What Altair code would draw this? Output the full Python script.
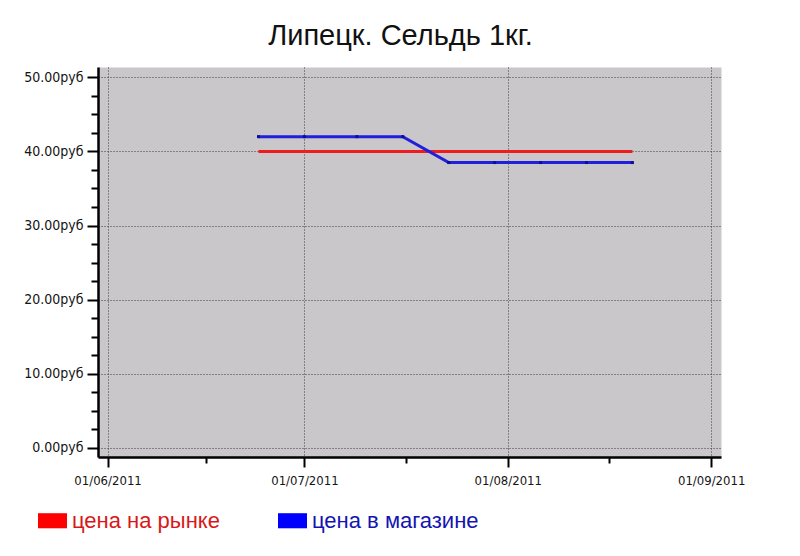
import altair as alt
import pandas as pd

# ---- data ----
dates = ["2011-06-24", "2011-07-01", "2011-07-09", "2011-07-16", "2011-07-23",
         "2011-07-30", "2011-08-06", "2011-08-13", "2011-08-20"]
market_price = [40, 40, 40, 40, 40, 40, 40, 40, 40]
store_price = [42, 42, 42, 42, 38.5, 38.5, 38.5, 38.5, 38.5]
series_names = ["цена на рынке", "цена в магазине"]
line_colors = ["#ee1c1c", "#1f1fdc"]
legend_colors = ["#ff0000", "#0000ff"]
text_colors = ["#d81818", "#1414b0"]

x_major_ticks = [(2011, 6, 1), (2011, 7, 1), (2011, 8, 1), (2011, 9, 1)]
x_minor_ticks = [(2011, 6, 16, 0), (2011, 7, 16, 12), (2011, 8, 16, 12)]
x_domain = [(2011, 5, 30, 13), (2011, 9, 2, 12)]
y_major_ticks = [0, 10, 20, 30, 40, 50]
y_minor_ticks = [2.5, 5, 7.5, 12.5, 15, 17.5, 22.5, 25, 27.5,
                 32.5, 35, 37.5, 42.5, 45, 47.5]
y_domain = [-1.25, 51.4]

title_text = "Липецк. Сельдь 1кг."

# ---- build table ----
df = pd.DataFrame({
    "date": dates + dates,
    "value": market_price + store_price,
    "series": [series_names[0]] * len(dates) + [series_names[1]] * len(dates),
})


def dt(t):
    if len(t) == 3:
        return alt.DateTime(year=t[0], month=t[1], date=t[2], utc=True)
    return alt.DateTime(year=t[0], month=t[1], date=t[2], hours=t[3], utc=True)


AX_FONT = "DejaVu Sans Condensed, Liberation Sans, Arial, sans-serif"

x_scale = alt.Scale(type="utc", domain=[dt(d) for d in x_domain])
y_scale = alt.Scale(domain=y_domain, nice=False, zero=False)
legend_scale = alt.Scale(domain=series_names, range=legend_colors)
line_scale = alt.Scale(domain=series_names, range=line_colors)

x_axis = alt.Axis(
    orient="bottom", title=None, values=[dt(d) for d in x_major_ticks],
    labelExpr="utcFormat(datum.value, '%d/%m/%Y')",
    labelFont=AX_FONT, labelFontSize=13, labelColor="#151515", labelPadding=7,
    tickSize=10, tickWidth=2, tickColor="#000000",
    domainColor="#000000", domainWidth=2.5,
    grid=True, gridDash=[1, 2], gridColor="#3a3a3a", gridWidth=1,
)
y_axis = alt.Axis(
    orient="left", title=None, values=y_major_ticks,
    labelExpr="format(datum.value, '.2f') + 'руб'",
    labelFont=AX_FONT, labelFontSize=14, labelColor="#151515", labelPadding=4,
    tickSize=11, tickWidth=2, tickColor="#000000",
    domainColor="#000000", domainWidth=2.5,
    grid=True, gridDash=[1, 2], gridColor="#3a3a3a", gridWidth=1,
)
x_minor_axis = alt.Axis(
    orient="bottom", title=None, values=[dt(d) for d in x_minor_ticks],
    labels=False, grid=False, domain=False,
    tickSize=6, tickWidth=2, tickColor="#000000",
)
y_minor_axis = alt.Axis(
    orient="left", title=None, values=y_minor_ticks,
    labels=False, grid=False, domain=False,
    tickSize=7, tickWidth=2, tickColor="#000000",
)

rect_path = "M-1,-0.52H1V0.52H-1Z"
label_color_expr = (
    f"datum.value === '{series_names[0]}' ? '{text_colors[0]}' : '{text_colors[1]}'"
)

legend = alt.Legend(
    title=None, orient="none", legendX=-60, legendY=439,
    direction="horizontal", columnPadding=58,
    labelFont="Liberation Sans, Arial, sans-serif", labelFontSize=22,
    labelOffset=5, labelLimit=400,
    labelColor={"expr": label_color_expr},
    symbolType=rect_path, symbolSize=841, symbolStrokeWidth=0,
    symbolOpacity=1,
)

base = alt.Chart(df)

# legend carrier: filled, zero-size marks on their own colour scale
legend_layer = base.mark_square(size=0, filled=True).encode(
    x=alt.X("date:T", scale=x_scale, axis=None),
    y=alt.Y("value:Q", scale=y_scale, axis=None),
    color=alt.Color("series:N", scale=legend_scale, legend=legend),
)

lines = base.mark_line(strokeWidth=3).encode(
    x=alt.X("date:T", axis=x_axis),
    y=alt.Y("value:Q", axis=y_axis),
    stroke=alt.Stroke("series:N", scale=line_scale, legend=None),
)

dots = base.transform_filter(
    alt.datum.series == series_names[1]
).mark_square(size=9, color="#0d0d95", opacity=1).encode(
    x=alt.X("date:T", axis=None),
    y=alt.Y("value:Q", axis=None),
)

minor = base.mark_line(opacity=0).encode(
    x=alt.X("date:T", axis=x_minor_axis),
    y=alt.Y("value:Q", axis=y_minor_axis),
)

chart = alt.layer(legend_layer, lines, dots, minor).resolve_axis(
    x="independent", y="independent"
).properties(
    width=623, height=390,
    background="#ffffff",
    autosize=alt.AutoSizeParams(type="none"),
    padding={"left": 90, "top": 59, "right": 65, "bottom": 85},
    title=alt.TitleParams(
        title_text, font="Liberation Sans, Arial, sans-serif", fontSize=29,
        fontWeight="normal", color="#111111", anchor="middle", frame="group",
        offset=19, baseline="alphabetic", dx=-9, dy=26,
    ),
).configure_view(
    fill="#c9c7ca", stroke="transparent"
)

chart.save("out.html", embed_options={"renderer": "svg", "actions": False})
